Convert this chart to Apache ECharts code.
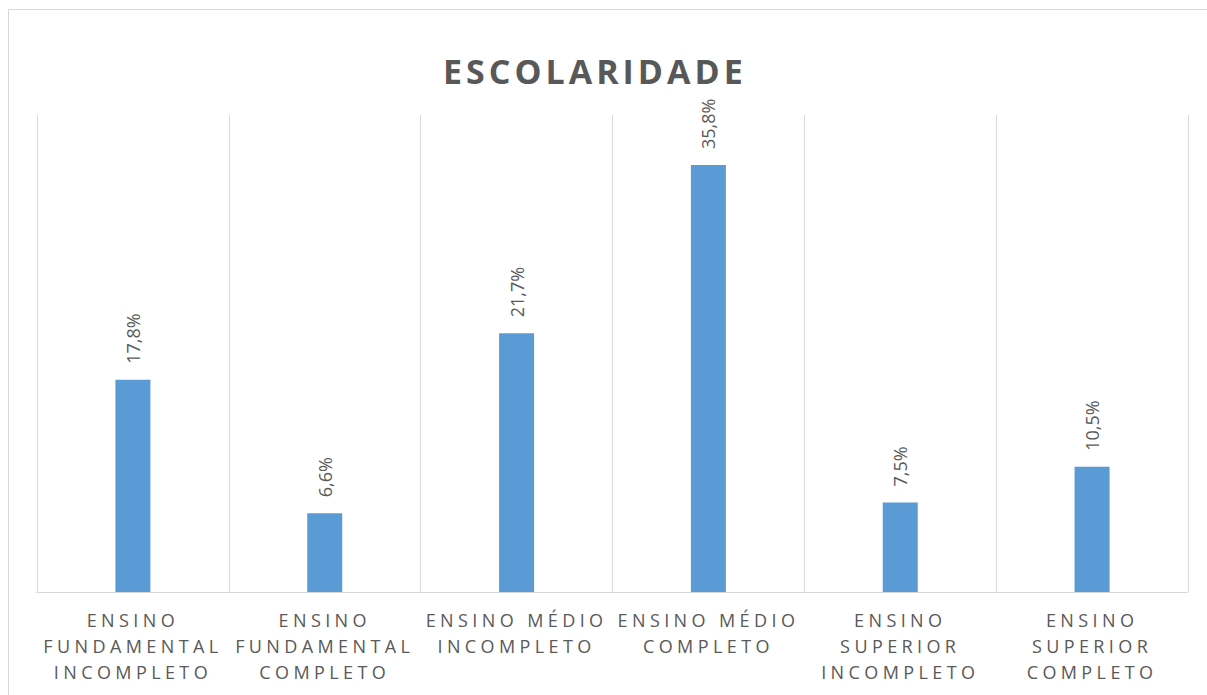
<!DOCTYPE html>
<html>
<head>
<meta charset="utf-8">
<script src="https://cdn.jsdelivr.net/npm/echarts@6/dist/echarts.min.js"></script>
<style>
  html, body { margin: 0; padding: 0; background: #ffffff; }
  #chart { width: 1207px; height: 695px; }
  /* letter spacing for axis labels and title (SVG renderer) */
  text[fill="#595959"] { letter-spacing: 4.4px; }
  text[fill="#585858"] { letter-spacing: 4px; }
</style>
</head>
<body>
<div id="chart"></div>
<script>
const chartTitle = 'ESCOLARIDADE';
const categories = [
  'ENSINO\nFUNDAMENTAL\nINCOMPLETO',
  'ENSINO\nFUNDAMENTAL\nCOMPLETO',
  'ENSINO MÉDIO\nINCOMPLETO',
  'ENSINO MÉDIO\nCOMPLETO',
  'ENSINO\nSUPERIOR\nINCOMPLETO',
  'ENSINO\nSUPERIOR\nCOMPLETO'
];
const values = [17.8, 6.6, 21.7, 35.8, 7.5, 10.5];

const chart = echarts.init(document.getElementById('chart'), null, { renderer: 'svg' });
chart.setOption({
  backgroundColor: '#ffffff',
  animation: false,
  title: {
    text: chartTitle,
    left: 443,
    top: 54,
    padding: 0,
    textStyle: {
      color: '#585858',
      fontFamily: 'Open Sans',
      fontWeight: 'bold',
      fontSize: 34
    }
  },
  graphic: [{
    type: 'rect',
    silent: true,
    shape: { x: 8.5, y: 9.5, width: 1400, height: 900 },
    style: { fill: 'none', stroke: '#d9d9d9', lineWidth: 1 }
  }],
  grid: { left: 37, right: 19, top: 115, bottom: 103, containLabel: false },
  xAxis: {
    type: 'category',
    data: categories,
    boundaryGap: true,
    axisLine: { show: true, lineStyle: { color: '#d9d9d9', width: 1 } },
    axisTick: { show: false },
    splitLine: { show: true, lineStyle: { color: '#d9d9d9', width: 1 } },
    axisLabel: {
      interval: 0,
      margin: 15,
      color: '#595959',
      fontFamily: 'Open Sans',
      fontSize: 18,
      lineHeight: 26
    }
  },
  yAxis: {
    type: 'value',
    min: 0,
    max: 40,
    interval: 10,
    show: false,
    splitLine: { show: false }
  },
  series: [{
    type: 'bar',
    data: values,
    barWidth: 35,
    itemStyle: { color: '#5b9bd5' },
    label: {
      show: true,
      position: 'top',
      distance: 16,
      rotate: 90,
      align: 'left',
      verticalAlign: 'middle',
      color: '#5a5a5a',
      fontFamily: 'Open Sans',
      fontSize: 18,
      formatter: p => p.value.toFixed(1).replace('.', ',') + '%'
    }
  }]
});
</script>
</body>
</html>
